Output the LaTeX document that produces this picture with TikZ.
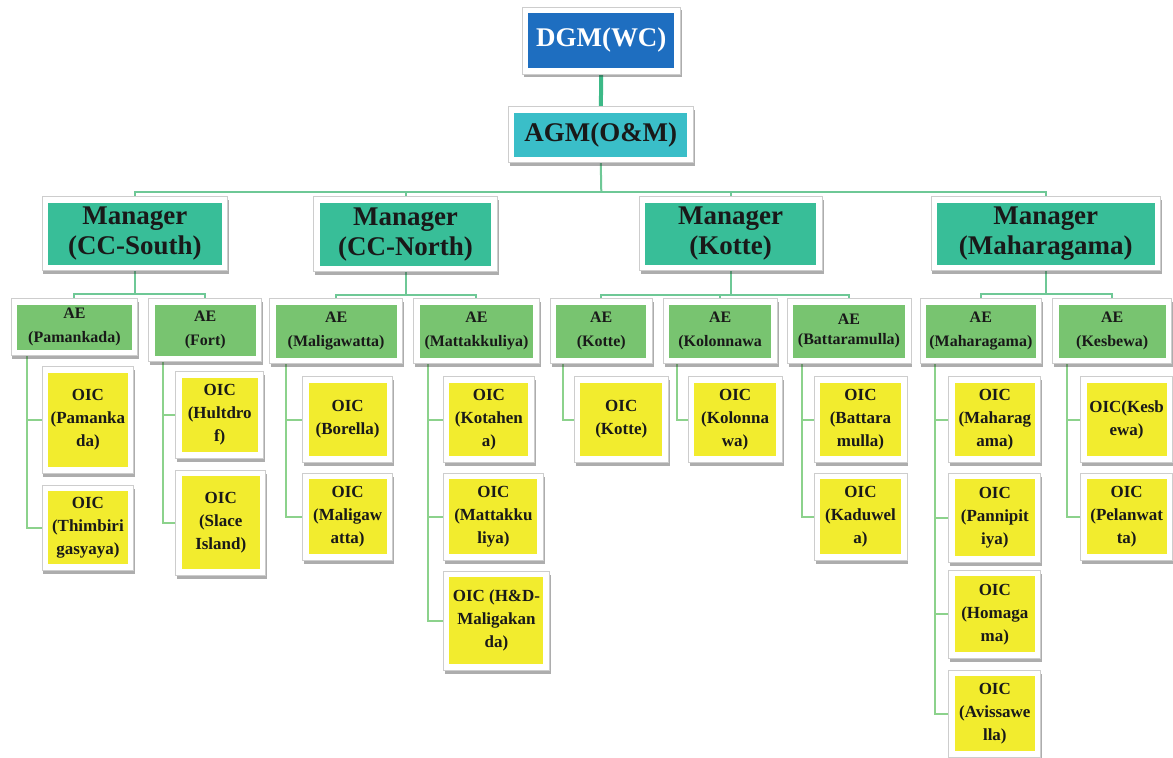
\documentclass[tikz,border=0pt]{standalone}
\usepackage{fontspec}
\setmainfont{Liberation Serif}
\usetikzlibrary{shadows}
\definecolor{dgmblue}{RGB}{30,110,192}
\definecolor{agmteal}{RGB}{58,190,200}
\definecolor{mgrgreen}{RGB}{56,190,152}
\definecolor{aegreen}{RGB}{120,196,112}
\definecolor{oicyellow}{RGB}{242,236,46}
\definecolor{linetop}{RGB}{60,185,135}
\definecolor{linebus}{RGB}{110,200,150}
\definecolor{linespine}{RGB}{140,210,140}
\definecolor{txtdark}{RGB}{25,25,25}
\definecolor{frameline}{RGB}{205,205,205}
\pgfdeclarelayer{back}
\pgfdeclarelayer{bg}
\pgfsetlayers{back,bg,main}
\begin{document}
\begin{tikzpicture}[x=1pt,y=-1pt,
  box/.style={fill=white,draw=frameline,line width=0.8pt,inner sep=0pt,align=center,text=txtdark,
    path picture={\fill[#1] ([shift={(6pt,-6pt)}]path picture bounding box.north west) rectangle ([shift={(-6pt,6pt)}]path picture bounding box.south east);},
    drop shadow={shadow xshift=1.5pt,shadow yshift=-3.5pt,opacity=0.4,fill=black!80}},
  topbox/.style={box=#1,font=\fontsize{27}{30}\selectfont\bfseries},
  mgrbox/.style={box=mgrgreen,font=\fontsize{27}{30}\selectfont\bfseries},
  aebox/.style={box=aegreen,font=\fontsize{16}{24}\selectfont\bfseries},
  oicbox/.style={box=oicyellow,font=\fontsize{17}{23}\selectfont\bfseries},
  toplink/.style={draw=linetop,line width=4pt},
  buslink/.style={draw=linebus,line width=2pt},
  spinelink/.style={draw=linespine,line width=2pt},
  sz/.style 2 args={minimum width=#1pt+12pt,minimum height=#2pt+12pt}
]
\begin{pgfonlayer}{back}
\useasboundingbox[fill=white] (0,0) rectangle (1173,758);
\end{pgfonlayer}

% top
\node[topbox=dgmblue,text=white,sz={146}{55}] (dgm) at (602,40.5) {DGM(WC)};
\node[topbox=agmteal,sz={173}{44}] (agm) at (601.5,135) {AGM(O\&M)};

% managers
\node[mgrbox,sz={174}{62}] (m1) at (135,234) {Manager\\(CC-South)};
\node[mgrbox,sz={172}{63}] (m2) at (406,234.5) {Manager\\(CC-North)};
\node[mgrbox,sz={171}{62}] (m3) at (731.5,234) {Manager\\(Kotte)};
\node[mgrbox,sz={218}{62}] (m4) at (1047,234) {Manager\\(Maharagama)};

% AE
\node[aebox,sz={115}{45}] (a11) at (74.5,327.5) {AE\\(Pamankada)};
\node[aebox,sz={101}{51}] (a12) at (205.5,330.5) {AE\\(Fort)};
\node[aebox,sz={121}{53}] (a21) at (336.5,331.5) {AE\\(Maligawatta)};
\node[aebox,sz={114}{53}] (a22) at (477,331.5) {AE\\(Mattakkuliya)};
\node[aebox,sz={90}{53}] (a31) at (602,331.5) {AE\\(Kotte)};
\node[aebox,sz={102}{53}] (a32) at (721,331.5) {AE\\(Kolonnawa};
\node[aebox,sz={112}{53},font=\fontsize{16}{20}\selectfont\bfseries] (a33) at (850,331.5) {AE\\(Battaramulla)};
\node[aebox,sz={110}{53}] (a41) at (982,331.5) {AE\\(Maharagama)};
\node[aebox,sz={107}{53}] (a42) at (1113.5,331.5) {AE\\(Kesbewa)};

% OIC
\node[oicbox,sz={80}{95}] (o11a) at (88,420.5) {OIC\\(Pamanka\\da)};
\node[oicbox,sz={80}{73}] (o11b) at (88,528.5) {OIC\\(Thimbiri\\gasyaya)};
\node[oicbox,sz={76}{75}] (o12a) at (220,415.5) {OIC\\(Hultdro\\f)};
\node[oicbox,sz={78}{93}] (o12b) at (221,523.5) {OIC\\(Slace\\Island)};

\node[oicbox,sz={78}{74}] (o21a) at (348,420) {OIC\\(Borella)};
\node[oicbox,sz={78}{75}] (o21b) at (348,517.5) {OIC\\(Maligaw\\atta)};
\node[oicbox,sz={79}{74}] (o22a) at (489.5,420) {OIC\\(Kotahen\\a)};
\node[oicbox,sz={88}{75}] (o22b) at (494,517.5) {OIC\\(Mattakku\\liya)};
\node[oicbox,sz={94}{87}] (o22c) at (497,621.5) {OIC (H\&D-\\Maligakan\\da)};

\node[oicbox,sz={82}{74}] (o31a) at (622,420) {OIC\\(Kotte)};
\node[oicbox,sz={82}{74}] (o32a) at (736,420) {OIC\\(Kolonna\\wa)};
\node[oicbox,sz={81}{74}] (o33a) at (861.5,420) {OIC\\(Battara\\mulla)};
\node[oicbox,sz={81}{75}] (o33b) at (861.5,517.5) {OIC\\(Kaduwel\\a)};

\node[oicbox,sz={80}{74}] (o41a) at (996,420) {OIC\\(Maharag\\ama)};
\node[oicbox,sz={80}{77}] (o41b) at (996,518.5) {OIC\\(Pannipit\\iya)};
\node[oicbox,sz={80}{76}] (o41c) at (996,615) {OIC\\(Homaga\\ma)};
\node[oicbox,sz={80}{75}] (o41d) at (996,714.5) {OIC\\(Avissawe\\lla)};
\node[oicbox,sz={80}{74}] (o42a) at (1128,420) {OIC(Kesb\\ewa)};
\node[oicbox,sz={80}{75}] (o42b) at (1128,517.5) {OIC\\(Pelanwat\\ta)};

\begin{pgfonlayer}{bg}
% top links
\draw[toplink] (dgm) -- (agm);
\coordinate (bus) at (602,192);
\draw[buslink] (agm.south) -- (bus);
\draw[buslink] (m1.north) |- (bus) -| (m4.north);
\draw[buslink] (m2.north) -- (m2.north |- bus);
\draw[buslink] (m3.north) -- (m3.north |- bus);
% manager to AE
\coordinate (s1) at (135,294);
\draw[buslink] (m1.south) -- (s1);
\draw[buslink] (a11.north) |- (s1) -| (a12.north);
\coordinate (s2) at (406,295);
\draw[buslink] (m2.south) -- (s2);
\draw[buslink] (a21.north) |- (s2) -| (a22.north);
\coordinate (s3) at (731.5,295);
\draw[buslink] (m3.south) -- (s3);
\draw[buslink] (a31.north) |- (s3) -| (a33.north);
\draw[buslink] (a32.north) -- (a32.north |- s3);
\coordinate (s4) at (1047,294);
\draw[buslink] (m4.south) -- (s4);
\draw[buslink] (a41.north) |- (s4) -| (a42.north);
% AE to OIC spines
\coordinate (p11) at ([xshift=16pt]a11.south west);
\draw[spinelink] (p11) |- (o11a.west);
\draw[spinelink] (p11) |- (o11b.west);
\coordinate (p12) at ([xshift=15pt]a12.south west);
\draw[spinelink] (p12) |- (o12a.west);
\draw[spinelink] (p12) |- (o12b.west);
\coordinate (p21) at ([xshift=17pt]a21.south west);
\draw[spinelink] (p21) |- (o21a.west);
\draw[spinelink] (p21) |- (o21b.west);
\coordinate (p22) at ([xshift=15pt]a22.south west);
\draw[spinelink] (p22) |- (o22a.west);
\draw[spinelink] (p22) |- (o22b.west);
\draw[spinelink] (p22) |- (o22c.west);
\coordinate (p31) at ([xshift=13pt]a31.south west);
\draw[spinelink] (p31) |- (o31a.west);
\coordinate (p32) at ([xshift=14pt]a32.south west);
\draw[spinelink] (p32) |- (o32a.west);
\coordinate (p33) at ([xshift=15pt]a33.south west);
\draw[spinelink] (p33) |- (o33a.west);
\draw[spinelink] (p33) |- (o33b.west);
\coordinate (p41) at ([xshift=16pt]a41.south west);
\draw[spinelink] (p41) |- (o41a.west);
\draw[spinelink] (p41) |- (o41b.west);
\draw[spinelink] (p41) |- (o41c.west);
\draw[spinelink] (p41) |- (o41d.west);
\coordinate (p42) at ([xshift=15pt]a42.south west);
\draw[spinelink] (p42) |- (o42a.west);
\draw[spinelink] (p42) |- (o42b.west);
\end{pgfonlayer}
\end{tikzpicture}
\end{document}
